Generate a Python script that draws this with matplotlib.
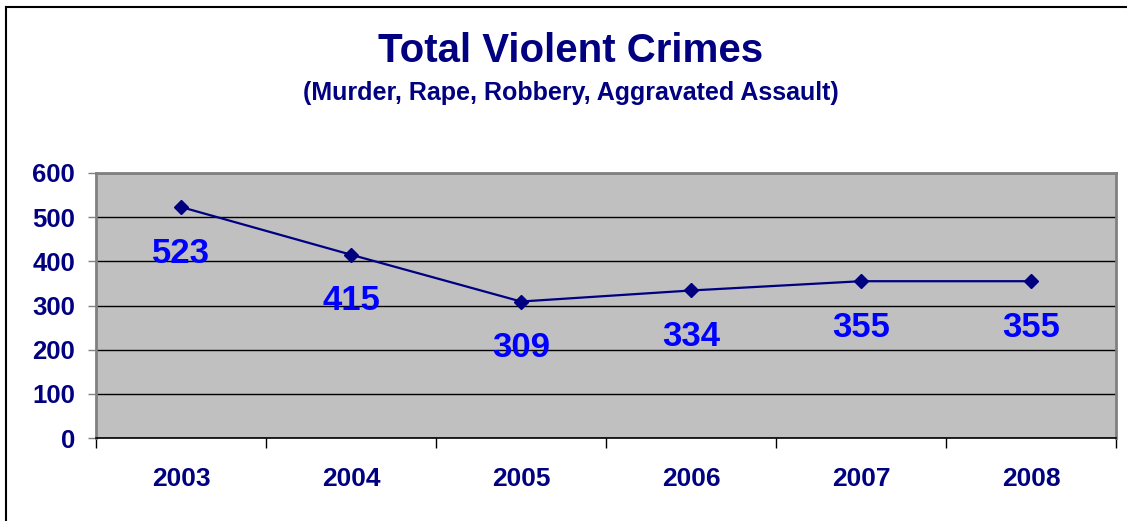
import numpy as np
import matplotlib.pyplot as plt
from matplotlib.lines import Line2D

years = ["2003", "2004", "2005", "2006", "2007", "2008"]
crimes = [523, 415, 309, 334, 355, 355]

navy = "#000080"
plt.rcParams["font.family"] = ["Liberation Sans", "DejaVu Sans"]
plt.rcParams["font.weight"] = "bold"

W, H = 1127, 521
fig = plt.figure(figsize=(W / 100, H / 100), dpi=100)
ax = fig.add_axes([96 / W, 1 - 438 / H, (1116 - 96) / W, (438 - 173) / H])
ax.set_facecolor("#C0C0C0")

x = np.arange(len(years))
ax.plot(x, crimes, color=navy, lw=1.6, marker="D", ms=7, mfc=navy, mec=navy, zorder=3)
for xi, v in zip(x, crimes):
    ax.annotate(str(v), (xi, v), xytext=(0, -40), textcoords="offset points",
                ha="center", va="baseline", fontsize=25, color="#0000FF", fontweight="bold")

ax.set_xlim(-0.5, len(years) - 0.5)
ax.set_ylim(0, 600)
ax.set_yticks(range(0, 601, 100))
ax.yaxis.grid(True, color="black", lw=1)
ax.set_axisbelow(True)

ax.set_xticks(x)
ax.set_xticklabels(years)
ax.set_xticks(np.arange(-0.5, len(years)), minor=True)
ax.tick_params(axis="x", which="major", length=0, pad=21, labelsize=19, labelcolor=navy)
ax.tick_params(axis="x", which="minor", length=7, width=1, color="black", direction="out")
ax.tick_params(axis="y", length=6, width=1, color="#808080", pad=9, labelsize=18.5, labelcolor=navy)

for s in ["left", "right", "top"]:
    ax.spines[s].set_color("#808080")
    ax.spines[s].set_linewidth(2)
ax.spines["bottom"].set_color("black")
ax.spines["bottom"].set_linewidth(1.2)

fig.text(571 / W, 1 - 50.5 / H, "Total Violent Crimes", ha="center", va="center",
         fontsize=29, color=navy, fontweight="bold")
fig.text(571 / W, 1 - 93 / H, "(Murder, Rape, Robbery, Aggravated Assault)", ha="center",
         va="center", fontsize=18, color=navy, fontweight="bold")

# outer chart border (runs off the right and bottom)
fig.add_artist(Line2D([6 / W, 6 / W], [0, 1 - 7 / H], color="black", lw=1.5, transform=fig.transFigure))
fig.add_artist(Line2D([6 / W, 1], [1 - 7 / H, 1 - 7 / H], color="black", lw=1.5, transform=fig.transFigure))

fig.savefig("out.png", dpi=100)
